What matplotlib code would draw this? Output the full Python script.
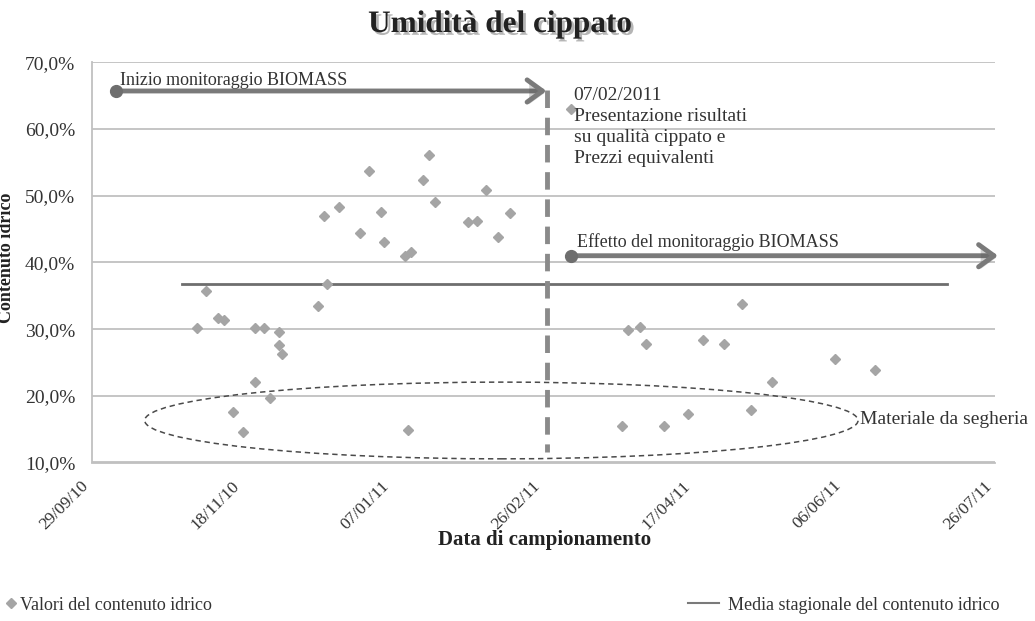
import matplotlib
matplotlib.use("Agg")
import matplotlib.pyplot as plt
import matplotlib.dates as mdates
import matplotlib.ticker as mticker
import matplotlib.patheffects as pe
import matplotlib.transforms as mtransforms
from matplotlib.patches import Ellipse
from matplotlib.lines import Line2D
from datetime import datetime

plt.rcParams['font.family'] = ['Liberation Serif', 'DejaVu Serif']

# ---------------- data ----------------
sample_dates = [
    "03/11/10", "06/11/10", "10/11/10", "12/11/10", "15/11/10", "18/11/10",
    "22/11/10", "22/11/10", "25/11/10", "27/11/10", "30/11/10", "30/11/10",
    "01/12/10", "13/12/10", "15/12/10", "16/12/10", "20/12/10", "27/12/10",
    "30/12/10", "03/01/11", "04/01/11", "11/01/11", "12/01/11", "13/01/11",
    "17/01/11", "19/01/11", "21/01/11", "01/02/11", "04/02/11", "07/02/11",
    "11/02/11", "15/02/11", "07/03/11", "24/03/11", "26/03/11", "30/03/11",
    "01/04/11", "07/04/11", "15/04/11", "20/04/11", "27/04/11", "03/05/11",
    "06/05/11", "13/05/11", "03/06/11", "16/06/11",
]
moisture_pct = [
    30.2, 35.7, 31.7, 31.4, 17.6, 14.5,
    30.2, 22.0, 30.1, 19.6, 29.6, 27.6,
    26.3, 33.5, 46.9, 36.7, 48.3, 44.4,
    53.7, 47.5, 43.0, 40.9, 14.9, 41.5,
    52.3, 56.1, 49.1, 46.0, 46.2, 50.8,
    43.8, 47.4, 63.0, 15.5, 29.9, 30.3,
    27.8, 15.5, 17.2, 28.3, 27.7, 33.8,
    17.9, 22.1, 25.5, 23.9,
]
mean_dates = ["29/10/10", "10/07/11"]
mean_value = [36.8, 36.8]

x_tick_labels = ["29/09/10", "18/11/10", "07/01/11", "26/02/11",
                 "17/04/11", "06/06/11", "26/07/11"]
y_ticks = [10, 20, 30, 40, 50, 60, 70]

title = "Umidità del cippato"
x_label = "Data di campionamento"
y_label = "Contenuto idrico"
legend_points = "Valori del contenuto idrico"
legend_mean = "Media stagionale del contenuto idrico"

# annotation anchors
arrow1 = (["07/10/10", "27/02/11"], 65.7)
arrow2 = (["07/03/11", "27/07/11"], 41.0)
divider = ("27/02/11", [65.8, 11.6])
ellipse_center = ("12/02/11", 16.3)
ellipse_size = (237, 11.5)


def d(s):
    return mdates.date2num(datetime.strptime(s, "%d/%m/%y"))


# ---------------- figure ----------------
fig = plt.figure(figsize=(10.35, 6.21), dpi=100)
ax = fig.add_axes([92 / 1035, 1 - 462.5 / 621, (995 - 92) / 1035, (462.5 - 62.3) / 621])

ax.set_xlim(d(x_tick_labels[0]), d(x_tick_labels[-1]))
ax.set_ylim(10, 70)
ax.set_xticks([d(s) for s in x_tick_labels])
ax.set_xticklabels(x_tick_labels, rotation=45, ha='right', va='top',
                   fontsize=12.5, color='#333333')
offset = mtransforms.ScaledTranslation(3 / 100, 0, fig.dpi_scale_trans)
for lab in ax.get_xticklabels():
    lab.set_transform(lab.get_transform() + offset)
ax.set_yticks(y_ticks)
ax.yaxis.set_major_formatter(mticker.FuncFormatter(
    lambda v, p: f"{v:.1f}".replace('.', ',') + "%"))
for lab in ax.get_yticklabels():
    lab.set_fontsize(14)
    lab.set_color('#333333')
ax.tick_params(axis='both', length=0)
ax.tick_params(axis='x', pad=11)
ax.tick_params(axis='y', pad=12)

ax.grid(axis='y', color='#c0c0c0', lw=1.3)
ax.set_axisbelow(True)
for sp in ['top', 'right']:
    ax.spines[sp].set_visible(False)
for sp in ['left', 'bottom']:
    ax.spines[sp].set_color('#c0c0c0')
    ax.spines[sp].set_linewidth(1.3)

# points
ax.plot([d(s) for s in sample_dates], moisture_pct, 'D', ls='none',
        color='#a5a5a5', ms=5.6, zorder=3)
# seasonal mean
ax.plot([d(s) for s in mean_dates], mean_value, color='#6e6e6e', lw=2, zorder=2)

# vertical dashed divider
ax.plot([d(divider[0])] * 2, divider[1], color='#8a8a8a', lw=3.5,
        ls=(0, (3.6, 2.0)), zorder=4, clip_on=False)

shadow = [pe.SimplePatchShadow(offset=(1.5, -1.5), alpha=0.25), pe.Normal()]
for (xs, yv) in (arrow1, arrow2):
    x0, x1 = d(xs[0]), d(xs[1])
    ax.annotate('', xy=(x1, yv), xytext=(x0, yv),
                arrowprops=dict(arrowstyle='->,head_length=0.55,head_width=0.4',
                                lw=3.5, color='#7a7a7a', shrinkA=0, shrinkB=0,
                                mutation_scale=20, path_effects=shadow),
                annotation_clip=False, zorder=5)
    ax.plot([x0], [yv], 'o', color='#6e6e6e', ms=8.5, zorder=6, clip_on=False)

# ellipse
ell = Ellipse((d(ellipse_center[0]), ellipse_center[1]), ellipse_size[0], ellipse_size[1],
              fill=False, ls=(0, (3.5, 2.5)), lw=1.1, edgecolor='#4a4a4a', zorder=3)
ax.add_patch(ell)

# annotation texts
txt_color = '#333333'
ax.text(d("08/10/10") + 0.3, 66.6, "Inizio monitoraggio BIOMASS", fontsize=13,
        color=txt_color, va='baseline', ha='left')
ax.text(d("08/03/11"), 66.3,
        "07/02/2011\nPresentazione risultati\nsu qualità cippato e\nPrezzi equivalenti",
        fontsize=14, color=txt_color, va='top', ha='left', linespacing=1.3)
ax.text(d("09/03/11"), 42.3, "Effetto del monitoraggio BIOMASS", fontsize=13,
        color=txt_color, va='baseline', ha='left')
ax.text(d("11/06/11"), 16.4, "Materiale da segheria", fontsize=14,
        color=txt_color, va='center', ha='left', clip_on=False)

# title, axis labels
fig.text(500 / 1035, 1 - 32 / 621, title, ha='center', va='baseline', fontsize=22.5,
         weight='bold', color='#222222',
         path_effects=[pe.withSimplePatchShadow(offset=(2, -2), alpha=0.3)])
fig.text(545 / 1035, 1 - 545 / 621, x_label, ha='center', va='baseline',
         fontsize=15, weight='bold', color='#222222')
fig.text(15 / 1035, 1 - 258 / 621, y_label, ha='right', va='center', rotation=90,
         fontsize=13, weight='bold', color='#222222')

# legends
h1 = Line2D([], [], marker='D', ls='none', color='#a5a5a5', ms=5)
h2 = Line2D([], [], color='#7a7a7a', lw=1.5)
fig.legend(handles=[h1], labels=[legend_points], loc='center left',
           bbox_to_anchor=(6 / 1035, 16 / 621), frameon=False, fontsize=13,
           handlelength=0.6, handletextpad=0.2, borderaxespad=0, borderpad=0,
           labelcolor='#333333')
fig.legend(handles=[h2], labels=[legend_mean], loc='center left',
           bbox_to_anchor=(688 / 1035, 16 / 621), frameon=False, fontsize=13,
           handlelength=1.7, handletextpad=0.5, borderaxespad=0, borderpad=0,
           labelcolor='#333333')

fig.savefig("out.png", dpi=100)
